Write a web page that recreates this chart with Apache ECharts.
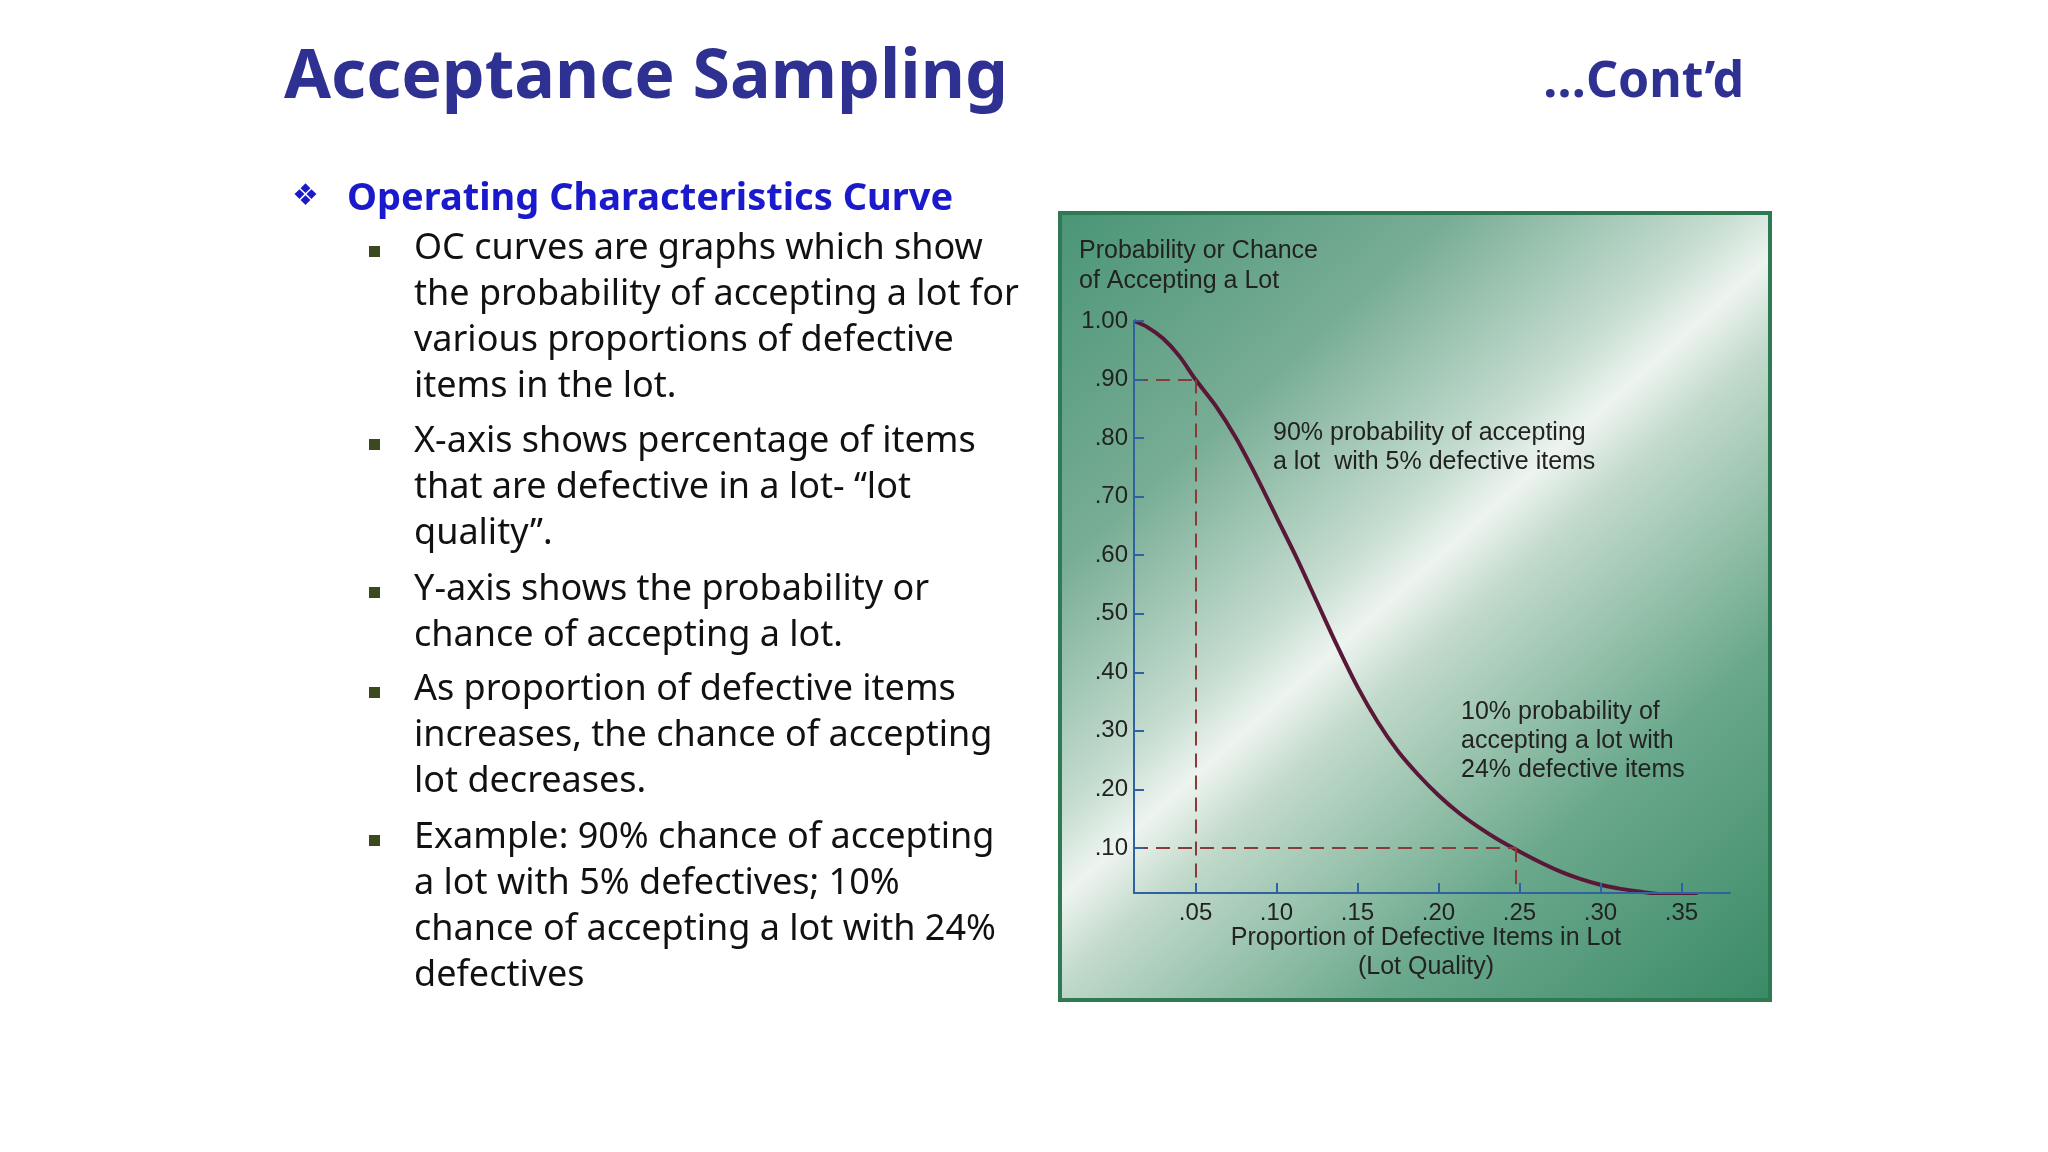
<!DOCTYPE html>
<html><head><meta charset="utf-8">
<script src="https://cdn.jsdelivr.net/npm/echarts@6/dist/echarts.min.js"></script>
<style>html,body{margin:0;padding:0;background:#fff}#c{width:2048px;height:1152px}</style>
</head><body><div id="c"></div>
<script>
const curveX = [0.012,0.02,0.03,0.04,0.05,0.0625,0.075,0.0875,0.10,0.1125,0.125,0.1375,0.15,0.1625,0.175,0.1875,0.20,0.2125,0.225,0.2375,0.25,0.2625,0.275,0.2875,0.30,0.3125,0.325,0.3375,0.35,0.36];
const curveY = [1.00,0.99,0.97,0.94,0.90,0.855,0.80,0.735,0.665,0.595,0.52,0.445,0.375,0.315,0.265,0.225,0.19,0.16,0.135,0.113,0.094,0.076,0.06,0.047,0.037,0.03,0.025,0.021,0.02,0.02];
const xTicks = [0.05,0.10,0.15,0.20,0.25,0.30,0.35];
const yTicks = [0.1,0.2,0.3,0.4,0.5,0.6,0.7,0.8,0.9,1.0];
const refPoints = [[0.05,0.90],[0.248,0.10]];
const bullets = [
 ["OC curves are graphs which show","the probability of accepting a lot for","various proportions of defective","items in the lot."],
 ["X-axis shows percentage of items","that are defective in a lot- \u201clot","quality\u201d."],
 ["Y-axis shows the probability or","chance of accepting a lot."],
 ["As proportion of defective items","increases, the chance of accepting","lot decreases."],
 ["Example: 90% chance of accepting","a lot with 5% defectives; 10%","chance of accepting a lot with 24%","defectives"]
];
const xMin=0.012, yMin=0.023;
const fmt = v => { const s=v.toFixed(2); return s.startsWith('0')? s.slice(1): s; };

const g = [];
g.push({type:'rect',shape:{x:1060,y:213,width:710,height:787},z:0,
  style:{fill:new echarts.graphic.LinearGradient(0,0,1,1,[
    {offset:0,color:'#4a9576'},{offset:0.25,color:'#78ad95'},{offset:0.42,color:'#c4dccf'},{offset:0.48,color:'#eef4f0'},{offset:0.54,color:'#c2dacb'},{offset:0.75,color:'#6aa88b'},{offset:1,color:'#3a8a66'}]),
    stroke:'#2f7a52',lineWidth:4}});
g.push({type:'text',left:284,top:45,style:{text:'Acceptance Sampling',font:'bold 68px "Noto Sans"',fill:'#2e3192'}});
g.push({type:'text',right:304,top:58,style:{text:'\u2026Cont\u2019d',font:'bold 50px "Noto Sans"',fill:'#2e3192'}});
g.push({type:'text',left:292,top:182,style:{text:'\u2756',font:'30px "DejaVu Sans"',fill:'#1a1acc'}});
g.push({type:'text',left:347,top:180,style:{text:'Operating Characteristics Curve',font:'bold 38px "Noto Sans"',fill:'#1a1acc'}});
const starts=[252,445,593,693,841];
bullets.forEach((b,i)=>{
  g.push({type:'rect',shape:{x:369,y:starts[i]-6,width:11,height:11},style:{fill:'#3b4a1e'}});
  b.forEach((ln,j)=>g.push({type:'text',left:414,top:starts[i]+j*45.8-21,style:{text:ln,font:'36px "Noto Sans"',fill:'#111'}}));
});
const ct='25px "Liberation Sans"';
g.push({type:'text',left:1079,top:236,style:{text:'Probability or Chance\nof Accepting a Lot',font:ct,fill:'#222',lineHeight:30}});
g.push({type:'text',left:1273,top:419,style:{text:'90% probability of accepting\na lot  with 5% defective items',font:ct,fill:'#222',lineHeight:29}});
g.push({type:'text',left:1461,top:698,style:{text:'10% probability of\naccepting a lot with\n24% defective items',font:ct,fill:'#222',lineHeight:29}});
g.push({type:'text',x:1426,y:924,style:{text:'Proportion of Defective Items in Lot\n(Lot Quality)',font:ct,fill:'#222',align:'center',lineHeight:29}});

const dash = [];
refPoints.forEach(([x,y])=>{
  dash.push([{coord:[xMin,y]},{coord:[x,y]}]);
  dash.push([{coord:[x,y]},{coord:[x,yMin]}]);
});

const chart = echarts.init(document.getElementById('c'));
chart.setOption({
  animation:false,
  graphic:g,
  grid:{left:1134,top:321,right:318,bottom:259},
  xAxis:{type:'value',min:xMin,max:0.38,z:5,
    axisLine:{lineStyle:{color:'#2f62a0',width:2}},
    axisTick:{inside:true,length:10,customValues:xTicks,lineStyle:{color:'#2f62a0',width:2}},
    axisLabel:{customValues:xTicks,formatter:fmt,color:'#222',fontSize:24,fontFamily:'Liberation Sans',margin:8},
    splitLine:{show:false}},
  yAxis:{type:'value',min:yMin,max:1.0,z:5,
    axisLine:{show:true,lineStyle:{color:'#2f62a0',width:2}},
    axisTick:{show:true,inside:true,length:10,customValues:yTicks,lineStyle:{color:'#2f62a0',width:2}},
    axisLabel:{customValues:yTicks,formatter:fmt,color:'#222',fontSize:24,fontFamily:'Liberation Sans',margin:6},
    splitLine:{show:false}},
  series:[{type:'line',data:curveX.map((x,i)=>[x,curveY[i]]),smooth:0.3,showSymbol:false,z:4,
    lineStyle:{color:'#5a1838',width:4},
    markLine:{silent:true,symbol:'none',label:{show:false},lineStyle:{color:'#8b3a3a',type:[14,8],width:2},data:dash}}]
});
</script></body></html>
